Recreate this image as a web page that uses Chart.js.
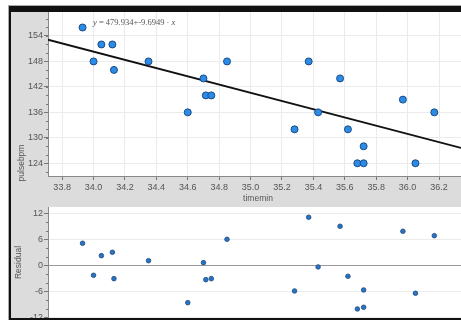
<!DOCTYPE html>
<html>
<head>
<meta charset="utf-8">
<script src="https://cdn.jsdelivr.net/npm/chart.js@4/dist/chart.umd.min.js"></script>
<style>
  body { margin: 0; width: 461px; height: 320px; overflow: hidden; background: #fff; position: relative; }
  .outer { position: absolute; left: 8px; top: 5px; width: 470px; height: 320px; border-left: 1px solid #aaa; border-top: 1px solid #aaa; }
  .panel { position: absolute; left: 9px; top: 6px; width: 470px; height: 314px; box-sizing: border-box;
           border-left: 2px solid #111; border-top: 6px solid #111; border-bottom: 2px solid #111; background: #dcdcdc; }
  canvas { position: absolute; }
  #fitChart { left: 11px; top: 12px; }
  #residChart { left: 11px; top: 207px; }
</style>
</head>
<body>
<div class="outer"></div>
<div class="panel"></div>
<canvas id="fitChart" width="450" height="195"></canvas>
<canvas id="residChart" width="450" height="111"></canvas>
<script>
// pulse vs time
const timeMin = [33.93, 34.0, 34.05, 34.12, 34.13, 34.35, 34.6, 34.7, 34.715, 34.75, 34.85,
                 35.28, 35.37, 35.43, 35.57, 35.62, 35.68, 35.72, 35.72, 35.97, 36.05, 36.17];
const pulseBpm = [156, 148, 152, 152, 146, 148, 136, 144, 140, 140, 148,
                  132, 148, 136, 144, 132, 124, 128, 124, 139, 124, 136];
const residual = [5.08, -2.31, 2.22, 3.0, -3.09, 1.06, -8.63, 0.6, -3.32, -3.09, 6.0,
                  -5.93, 11.08, -0.39, 9.0, -2.54, -10.08, -5.7, -9.7, 7.85, -6.46, 6.83];

const intercept = 479.934;
const slope = -9.6949;

const xTicks = [33.8, 34.0, 34.2, 34.4, 34.6, 34.8, 35.0, 35.2, 35.4, 35.6, 35.8, 36.0, 36.2];
const pulseTicks = [124, 130, 136, 142, 148, 154];
const residTicks = [-12, -6, 0, 6, 12];

const xMin = 33.71, xMax = 36.34;

Chart.defaults.font.family = "'Liberation Sans', Arial, sans-serif";
Chart.defaults.font.size = 9;
Chart.defaults.color = "#555";

const fixTicks = (list) => (scale) => { scale.ticks = list.map(v => ({ value: v })); };
const fixSize = (w, h) => (scale) => {
  if (w != null) scale.width = w;
  if (h != null) scale.height = h;
  scale.paddingLeft = 0; scale.paddingRight = 0;
  scale.paddingTop = 0; scale.paddingBottom = 0;
};

// white plot area + minor ticks + texts
const panelPlugin = {
  id: "panel",
  beforeDraw(chart) {
    const a = chart.chartArea, c = chart.ctx;
    c.save();
    c.fillStyle = "#fff";
    c.fillRect(a.left, a.top, a.right - a.left, a.bottom - a.top);
    c.restore();
  },
  afterDraw(chart, args, opts) {
    const c = chart.ctx, y = chart.scales.y, a = chart.chartArea;
    c.save();
    c.strokeStyle = "#777";
    c.lineWidth = 1;
    for (let v = Math.ceil(y.min / 2) * 2; v <= y.max; v += 2) {
      const p = Math.round(y.getPixelForValue(v)) + 0.5;
      c.beginPath();
      c.moveTo(a.left - 2, p);
      c.lineTo(a.left, p);
      c.stroke();
    }
    c.fillStyle = "#555";
    c.font = "8.5px 'Liberation Sans', Arial, sans-serif";
    c.textAlign = "center";
    c.textBaseline = "middle";
    if (opts.xTitle) c.fillText(opts.xTitle, opts.xTitleAt[0], opts.xTitleAt[1]);
    if (opts.yTitle) {
      c.save();
      c.translate(opts.yTitleAt[0], opts.yTitleAt[1]);
      c.rotate(-Math.PI / 2);
      c.fillText(opts.yTitle, 0, 0);
      c.restore();
    }
    if (opts.equation) {
      let x = opts.eqAt[0];
      const yy = opts.eqAt[1];
      c.textAlign = "left";
      c.fillStyle = "#555";
      opts.equation.forEach(part => {
        c.font = (part.italic ? "italic " : "") + "8.5px 'Liberation Serif', 'Times New Roman', serif";
        c.fillText(part.text, x, yy);
        x += c.measureText(part.text).width;
      });
    }
    c.restore();
  }
};

const scatterPts = timeMin.map((t, i) => ({ x: t, y: pulseBpm[i] }));
const fitLine = [xMin, xMax].map(t => ({ x: t, y: intercept + slope * t }));
const residPts = timeMin.map((t, i) => ({ x: t, y: residual[i] }));

new Chart(document.getElementById("fitChart"), {
  type: "scatter",
  data: {
    datasets: [
      { data: scatterPts, pointRadius: 3.5, backgroundColor: "#2b8be6", borderColor: "#1a4c85", borderWidth: 1 },
      { type: "line", data: fitLine, borderColor: "#111", borderWidth: 1.8, pointRadius: 0, fill: false }
    ]
  },
  options: {
    responsive: false,
    animation: false,
    devicePixelRatio: 1,
    layout: { padding: 0, autoPadding: false },
    plugins: {
      legend: { display: false },
      tooltip: { enabled: false },
      panel: {
        xTitle: "timemin", xTitleAt: [247, 187],
        yTitle: "pulsebpm", yTitleAt: [10.5, 151],
        equation: [
          { text: "y", italic: true },
          { text: " = 479.934+-9.6949 · ", italic: false },
          { text: "x", italic: true }
        ],
        eqAt: [82, 11]
      }
    },
    scales: {
      x: {
        type: "linear", min: xMin, max: xMax,
        afterBuildTicks: fixTicks(xTicks),
        afterFit: fixSize(null, 31),
        grid: { color: "#ebebeb", tickColor: "#777", tickLength: 4 },
        border: { color: "#888" },
        ticks: { padding: 2, maxRotation: 0, autoSkip: false, callback: v => v.toFixed(1) }
      },
      y: {
        min: 121.0, max: 159.65,
        afterBuildTicks: fixTicks(pulseTicks),
        afterFit: fixSize(37, null),
        grid: { color: "#ebebeb", tickColor: "#777", tickLength: 4 },
        border: { color: "#888" },
        ticks: { padding: 1, autoSkip: false }
      }
    }
  },
  plugins: [panelPlugin]
});

new Chart(document.getElementById("residChart"), {
  type: "scatter",
  data: {
    datasets: [
      { data: residPts, pointRadius: 2.3, backgroundColor: "#2a72c4", borderColor: "#1d4a80", borderWidth: 0.8 }
    ]
  },
  options: {
    responsive: false,
    animation: false,
    devicePixelRatio: 1,
    layout: { padding: 0, autoPadding: false },
    plugins: {
      legend: { display: false },
      tooltip: { enabled: false },
      panel: { yTitle: "Residual", yTitleAt: [7.5, 55.5] }
    },
    scales: {
      x: { type: "linear", min: xMin, max: xMax, display: false },
      y: {
        min: -12.17, max: 13.45,
        afterBuildTicks: fixTicks(residTicks),
        afterFit: fixSize(37, null),
        grid: {
          color: ctx => (ctx.tick && ctx.tick.value === 0) ? "#9a9a9a" : "#ebebeb",
          tickColor: "#777", tickLength: 4
        },
        border: { color: "#888" },
        ticks: { padding: 1, autoSkip: false }
      }
    }
  },
  plugins: [panelPlugin]
});
</script>
</body>
</html>
